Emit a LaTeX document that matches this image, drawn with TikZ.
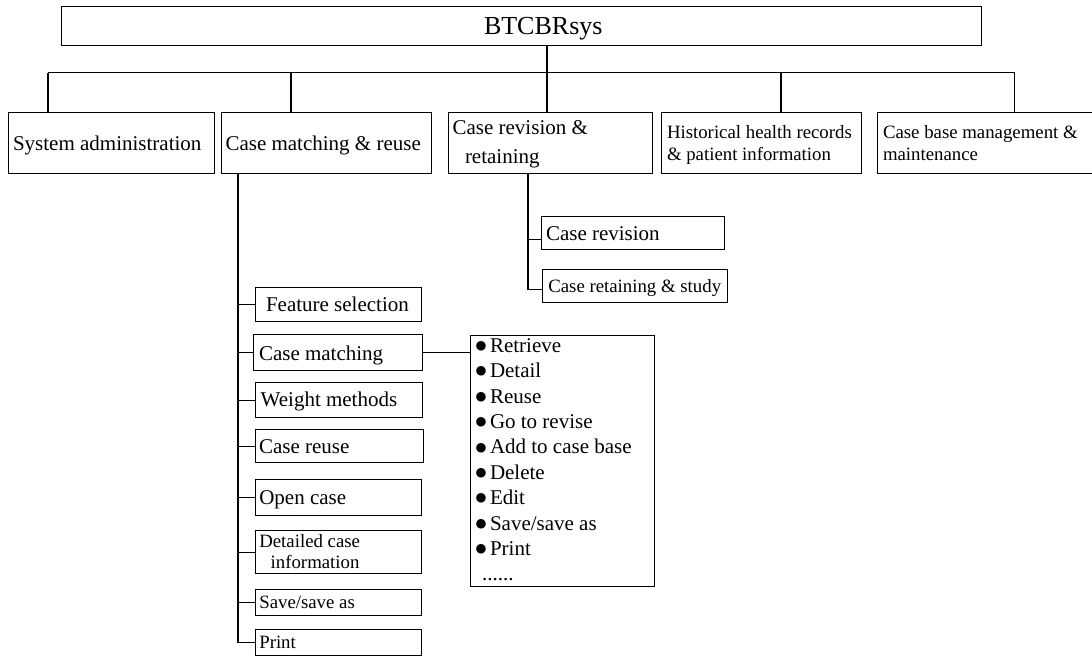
\documentclass[tikz,border=0pt]{standalone}
\usepackage{fontspec}
\setmainfont{Liberation Serif}
\newfontfamily\symfont{DejaVu Sans}
\newcommand{\fbig}{\fontsize{26}{30}\selectfont}
\newcommand{\fmid}{\fontsize{21}{25}\selectfont}
\newcommand{\fsml}{\fontsize{18.8}{22}\selectfont}
\newcommand{\bul}{\makebox[15pt][l]{\hspace{0.5pt}{\fontsize{12.5}{13}\symfont\raisebox{2.8pt}{●}}}}
\tikzset{
  boxst/.style={draw, line width=1.1pt, rectangle, inner sep=0pt, anchor=north west},
  txt/.style={anchor=base west, inner sep=0pt, outer sep=0pt},
  conn/.style={line width=1.1pt}
}
\newcommand{\bx}[5]{\node[boxst, minimum width={#4pt-#2pt}, minimum height={#5pt-#3pt}] (#1) at (#2,#3) {};}
\begin{document}
\begin{tikzpicture}[x=1pt,y=-1pt]
\useasboundingbox (0,0) rectangle (1092,657);
\clip (0,0) rectangle (1092,657);
% boxes
\bx{top}{61}{6}{981}{45}
\bx{sa}{7.7}{112}{214.3}{172.7}
\bx{cmr}{221}{112}{431}{172.7}
\bx{crr}{447.5}{112}{652}{172.7}
\bx{hh}{661}{112}{861}{172.7}
\bx{cb}{877}{112}{1100}{172.7}
\bx{fs}{254.7}{287.3}{421}{321}
\bx{cm}{253.3}{334}{422}{370}
\bx{wm}{254.7}{382.3}{421.7}{416.7}
\bx{cru}{254.7}{429}{422.7}{462.3}
\bx{oc}{254.7}{479}{421.3}{515}
\bx{dci}{254.7}{530.3}{421.3}{573.3}
\bx{ss}{254.7}{588.7}{421.3}{615.3}
\bx{pr}{254.7}{628.7}{421.3}{655.3}
\bx{crv}{540.7}{215.7}{724.3}{248.7}
\bx{crt}{541.7}{269}{727}{302.3}
\bx{lst}{470.3}{335}{654}{585.7}
% texts
\node[txt] (ttop) at (484,34) {\fbig BTCBRsys};
\node[txt] (tsa) at (13,150.5) {\fmid System administration};
\node[txt] (tcmr) at (225.5,150.5) {\fmid Case matching \& reuse};
\node[txt] (tcrr1) at (452.6,134) {\fmid Case revision \&};
\node[txt] (tcrr2) at (465,163) {\fmid retaining};
\node[txt] (thh1) at (667,138) {\fsml Historical health records};
\node[txt] (thh2) at (667,160.7) {\fsml \& patient information};
\node[txt] (tcb1) at (883,138) {\fsml Case base management \&};
\node[txt] (tcb2) at (883,160.7) {\fsml maintenance};
\node[txt] (tfs) at (266,311.7) {\fmid Feature selection};
\node[txt] (tcm) at (259,360) {\fmid Case matching};
\node[txt] (twm) at (260.7,406) {\fmid Weight methods};
\node[txt] (tcru) at (259,453.3) {\fmid Case reuse};
\node[txt] (toc) at (259.3,504.3) {\fmid Open case};
\node[txt] (tdci1) at (259.3,547.3) {\fsml Detailed case};
\node[txt] (tdci2) at (270.7,568.3) {\fsml information};
\node[txt] (tss) at (259.3,608.3) {\fsml Save/save as};
\node[txt] (tpr) at (259.3,648.3) {\fsml Print};
\node[txt] (tcrv) at (546,240) {\fmid Case revision};
\node[txt] (tcrt) at (548.3,292.3) {\fsml Case retaining \& study};
% list
\node[txt] (lsttxt) at (475,352.3) {\fontsize{21}{25.4}\selectfont
  \begin{tabular}[t]{@{}l@{}}
  \bul Retrieve\\
  \bul Detail\\
  \bul Reuse\\
  \bul Go to revise\\
  \bul Add to case base\\
  \bul Delete\\
  \bul Edit\\
  \bul Save/save as\\
  \bul Print\\
  \hspace{7pt}......
  \end{tabular}};
% connectors
\coordinate (busL) at (48,72.7);
\coordinate (busR) at (1014.5,72.7);
\coordinate (j2) at (291,72.7);
\coordinate (j3) at (547,72.7);
\coordinate (j4) at (781,72.7);
\coordinate (v1) at (238,200);
\coordinate (v2) at (528,200);
\coordinate (crtin) at ([yshift=-3.6pt]crt.west);
\coordinate (crvin) at ([yshift=-7pt]crv.west);
\draw[conn] (busL) -- (busR);
\draw[conn] (j3 |- top.south) -- (j3 |- crr.north);
\draw[conn] (busL) -- (busL |- sa.north);
\draw[conn] (j2) -- (j2 |- cmr.north);
\draw[conn] (j4) -- (j4 |- hh.north);
\draw[conn] (busR) -- (busR |- cb.north);
\draw[conn] (v1 |- cmr.south) -- (v1 |- pr.west) -- (pr.west);
\foreach \b in {fs,cm,wm,cru,oc,dci,ss} { \draw[conn] (v1 |- \b.west) -- (\b.west); }
\draw[conn] (v2 |- crr.south) -- (v2 |- crtin) -- (crtin);
\draw[conn] (v2 |- crvin) -- (crvin);
\draw[conn] (cm.east) -- (cm.east -| lst.west);
\end{tikzpicture}
\end{document}
